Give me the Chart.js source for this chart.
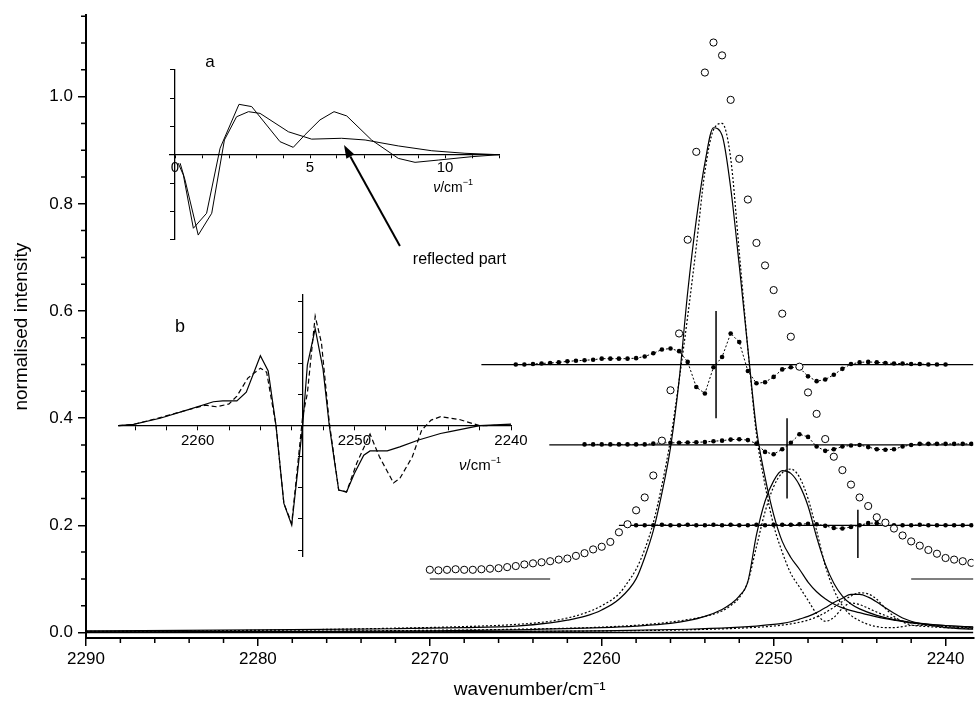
<!DOCTYPE html>
<html><head><meta charset="utf-8">
<script src="https://cdn.jsdelivr.net/npm/chart.js@4.4.1/dist/chart.umd.min.js"></script>
<style>
html,body{margin:0;padding:0;background:#fff;}
#wrap{position:relative;width:978px;height:701px;overflow:hidden;background:#fff;}
#wrap canvas{position:absolute;}
</style></head><body>
<div id="wrap">
<canvas id="main" width="978" height="701" style="left:0;top:0;"></canvas>
<canvas id="insetA" width="460" height="250" style="left:100px;top:40px;"></canvas>
<canvas id="insetB" width="480" height="320" style="left:80px;top:270px;"></canvas>
</div>
<script>
const FONT = "'Liberation Sans', Arial, Helvetica, sans-serif";

// ---------- main chart: tick values ----------
const xMajorTicks = [2290, 2280, 2270, 2260, 2250, 2240];
const xMinorTicks = [2288,2286,2284,2282,2278,2276,2274,2272,2268,2266,2264,2262,2258,2256,2254,2252,2248,2246,2244,2242];
const yMajorTicks = [0, 0.2, 0.4, 0.6, 0.8, 1.0];
const yMinorTicks = [0.05,0.1,0.15,0.25,0.3,0.35,0.45,0.5,0.55,0.65,0.7,0.75,0.85,0.9,0.95,1.05,1.1,1.15];

// ---------- main chart: experimental spectrum (open circles) ----------
const expX = [2270,2269.5,2269,2268.5,2268,2267.5,2267,2266.5,2266,2265.5,2265,2264.5,2264,2263.5,2263,2262.5,2262,2261.5,2261,2260.5,2260,2259.5,2259,2258.5,2258,2257.5,2257,2256.5,2256,2255.5,2255,2254.5,2254,2253.5,2253,2252.5,2252,2251.5,2251,2250.5,2250,2249.5,2249,2248.5,2248,2247.5,2247,2246.5,2246,2245.5,2245,2244.5,2244,2243.5,2243,2242.5,2242,2241.5,2241,2240.5,2240,2239.5,2239,2238.5];
const expY = [0.117,0.116,0.117,0.118,0.117,0.117,0.118,0.119,0.120,0.122,0.124,0.127,0.129,0.131,0.133,0.136,0.138,0.143,0.148,0.155,0.160,0.169,0.187,0.202,0.228,0.252,0.293,0.358,0.452,0.558,0.733,0.897,1.045,1.101,1.077,0.994,0.884,0.808,0.727,0.685,0.639,0.595,0.552,0.496,0.448,0.408,0.361,0.328,0.303,0.276,0.252,0.236,0.215,0.205,0.194,0.181,0.170,0.162,0.154,0.147,0.139,0.136,0.133,0.130];
const expBaseLeftX = [2270, 2263];
const expBaseRightX = [2242, 2238.38];
const expBaseY = [0.1, 0.1];

// ---------- residual rows (filled dots) ----------
const r1X = [2265,2264.5,2264,2263.5,2263,2262.5,2262,2261.5,2261,2260.5,2260,2259.5,2259,2258.5,2258,2257.5,2257,2256.5,2256,2255.5,2255,2254.5,2254,2253.5,2253,2252.5,2252,2251.5,2251,2250.5,2250,2249.5,2249,2248.5,2248,2247.5,2247,2246.5,2246,2245.5,2245,2244.5,2244,2243.5,2243,2242.5,2242,2241.5,2241,2240.5,2240];
const r1Y = [0.500,0.500,0.501,0.502,0.503,0.504,0.506,0.507,0.508,0.509,0.511,0.511,0.511,0.511,0.512,0.515,0.521,0.528,0.530,0.525,0.505,0.458,0.446,0.495,0.514,0.558,0.542,0.488,0.465,0.467,0.477,0.491,0.495,0.494,0.478,0.469,0.472,0.481,0.492,0.501,0.504,0.505,0.504,0.503,0.502,0.502,0.501,0.501,0.500,0.500,0.500];
const r2X = [2261,2260.5,2260,2259.5,2259,2258.5,2258,2257.5,2257,2256.5,2256,2255.5,2255,2254.5,2254,2253.5,2253,2252.5,2252,2251.5,2251,2250.5,2250,2249.5,2249,2248.5,2248,2247.5,2247,2246.5,2246,2245.5,2245,2244.5,2244,2243.5,2243,2242.5,2242,2241.5,2241,2240.5,2240,2239.5,2239,2238.5];
const r2Y = [0.351,0.351,0.351,0.351,0.351,0.351,0.351,0.351,0.3525,0.354,0.354,0.354,0.3545,0.355,0.3555,0.357,0.358,0.360,0.3605,0.359,0.3525,0.337,0.3326,0.342,0.354,0.370,0.365,0.347,0.339,0.342,0.347,0.349,0.350,0.346,0.342,0.341,0.342,0.347,0.350,0.352,0.352,0.352,0.352,0.352,0.352,0.352];
const r3X = [2258,2257.5,2257,2256.5,2256,2255.5,2255,2254.5,2254,2253.5,2253,2252.5,2252,2251.5,2251,2250.5,2250,2249.5,2249,2248.5,2248,2247.5,2247,2246.5,2246,2245.5,2245,2244.5,2244,2243.5,2243,2242.5,2242,2241.5,2241,2240.5,2240,2239.5,2239,2238.5];
const r3Y = [0.200,0.200,0.200,0.201,0.200,0.200,0.201,0.200,0.200,0.201,0.200,0.201,0.200,0.200,0.201,0.200,0.201,0.201,0.201,0.202,0.203,0.202,0.199,0.195,0.194,0.197,0.200,0.204,0.204,0.201,0.200,0.200,0.200,0.201,0.200,0.200,0.200,0.200,0.200,0.200];
const rowLine1X = [2267, 2238.38];   const rowLine1Y = [0.5, 0.5];
const rowLine2X = [2263.05, 2238.38]; const rowLine2Y = [0.35, 0.35];
const rowLine3X = [2259, 2238.38];   const rowLine3Y = [0.2, 0.2];
const bar1X = [2253.35, 2253.35]; const bar1Y = [0.40, 0.60];
const bar2X = [2249.22, 2249.22]; const bar2Y = [0.25, 0.40];
const bar3X = [2245.1, 2245.1];   const bar3Y = [0.139, 0.229];

// ---------- fitted components ----------
const s1X = [2290,2280,2272,2268,2265,2263,2262,2261,2260,2259,2258,2257.5,2257,2256.5,2256,2255.5,2255,2254.5,2254,2253.5,2253,2252.5,2252,2251.5,2251,2250.5,2250,2249.5,2249,2248.5,2248,2247.5,2247,2246.5,2246,2245,2244,2243,2242,2240,2238.38];
const s1Y = [0.003,0.005,0.007,0.009,0.012,0.018,0.023,0.030,0.042,0.062,0.100,0.140,0.190,0.260,0.345,0.470,0.635,0.770,0.876,0.942,0.928,0.830,0.685,0.530,0.380,0.290,0.220,0.170,0.140,0.118,0.094,0.076,0.063,0.053,0.046,0.037,0.029,0.023,0.018,0.013,0.010];
const d1X = [2290,2280,2272,2268,2265,2263,2262,2261,2260,2259,2258.5,2258,2257.5,2257,2256.5,2256,2255.5,2255,2254.5,2254,2253.5,2253,2252.5,2252,2251.5,2251,2250.5,2250,2249.5,2249,2248.5,2248,2247.5,2247,2246.5,2246,2245.5,2245,2244,2243,2242,2240,2238.38];
const d1Y = [0.002,0.004,0.008,0.011,0.015,0.021,0.027,0.036,0.050,0.072,0.093,0.118,0.155,0.205,0.275,0.360,0.470,0.590,0.720,0.860,0.938,0.950,0.885,0.710,0.530,0.370,0.275,0.200,0.150,0.110,0.085,0.060,0.035,0.021,0.028,0.045,0.055,0.052,0.038,0.026,0.018,0.011,0.008];
const s2X = [2290,2280,2270,2265,2260,2258,2256,2255,2254,2253,2252.5,2252,2251.5,2251,2250.5,2250,2249.5,2249,2248.5,2248,2247.5,2247,2246.5,2246,2245.5,2245,2244,2243,2242,2240,2238.38];
const s2Y = [0.001,0.002,0.003,0.005,0.009,0.012,0.017,0.022,0.030,0.043,0.053,0.068,0.095,0.182,0.245,0.283,0.302,0.297,0.275,0.236,0.178,0.128,0.092,0.068,0.053,0.044,0.032,0.024,0.019,0.013,0.010];
const d2X = [2290,2280,2270,2265,2260,2257,2255,2254,2253,2252.5,2252,2251.5,2251,2250.5,2250,2249.5,2249,2248.5,2248,2247.5,2247,2246.5,2246,2245.5,2245,2244.5,2244,2243.5,2243,2242.5,2242,2241,2240,2238.38];
const d2Y = [0.001,0.002,0.004,0.006,0.010,0.016,0.024,0.030,0.040,0.050,0.065,0.095,0.160,0.225,0.272,0.298,0.305,0.290,0.250,0.190,0.125,0.080,0.050,0.032,0.022,0.015,0.011,0.009,0.009,0.011,0.013,0.013,0.011,0.009];
const s3X = [2290,2270,2260,2255,2252.5,2251,2250,2249.5,2249,2248.5,2248,2247.5,2247,2246.5,2246,2245.5,2245,2244.5,2244,2243.5,2243,2242.5,2242,2241.5,2241,2240,2238.38];
const s3Y = [0.0005,0.001,0.003,0.006,0.009,0.012,0.015,0.017,0.020,0.025,0.030,0.037,0.046,0.056,0.064,0.071,0.071,0.066,0.057,0.046,0.036,0.027,0.021,0.017,0.014,0.009,0.006];
const d3X = [2290,2270,2260,2255,2252,2250,2249,2248,2247.5,2247,2246.5,2246,2245.5,2245,2244.5,2244,2243.5,2243,2242.5,2242,2241,2240,2238.38];
const d3Y = [0.0005,0.001,0.003,0.005,0.008,0.012,0.016,0.023,0.029,0.037,0.047,0.058,0.068,0.074,0.072,0.062,0.045,0.030,0.020,0.014,0.011,0.009,0.007];
const zeroX = [2290, 2238.38]; const zeroY = [0, 0];

// ---------- inset a ----------
const aXTicks = [0,1,2,3,4,5,6,7,8,9,10,11,12];
const aXLabelled = [0, 5, 10];
const aYTicks = [-3,-2,-1,0,1,2,3];
const aPX = [0.12,0.31,0.68,1.17,1.67,2.37,2.84,3.89,4.38,4.81,5.37,5.89,6.36,7.28,8.27,8.89,9.75,10.99,12.0];
const aPY = [-0.30,-0.72,-2.60,-2.07,0.23,1.78,1.70,0.46,0.26,0.70,1.23,1.52,1.37,0.52,-0.13,-0.27,-0.19,-0.07,0];
const aQX = [0.19,0.37,0.86,1.36,1.83,2.28,2.72,3.15,4.2,5.06,6.17,7.04,8.27,9.51,10.74,12.0];
const aQY = [-0.30,-0.89,-2.84,-2.07,0.52,1.34,1.52,1.46,0.81,0.55,0.58,0.52,0.31,0.14,0.05,0];

// ---------- inset b ----------
const bXTicks = [2264,2262,2260,2258,2256,2254,2252,2250,2248,2246,2244,2242,2240];
const bXLabelled = [2260, 2250, 2240];
const bYTicks = [-4,-3,-2,-1,0,1,2,3,4];
const bSX = [2265.07,2264.1,2262.4,2260.7,2259.0,2258.4,2257.5,2256.9,2256.0,2255.5,2255.0,2254.5,2254.0,2253.3,2253.0,2252.5,2252.0,2251.6,2251.0,2250.5,2250.0,2249.4,2249.0,2247.9,2247.1,2245.9,2244.5,2243.9,2242.0,2240.0];
const bSY = [0,0.04,0.24,0.50,0.77,0.80,0.80,1.08,2.25,1.76,0,-2.5,-3.2,0,1.95,3.12,1.82,0,-2.07,-2.13,-1.54,-0.95,-0.81,-0.81,-0.68,-0.46,-0.25,-0.19,0,0.05];
const bDX = [2265.07,2264.1,2262.4,2260.7,2259.5,2258.8,2258.0,2257.5,2256.8,2256.0,2255.6,2255.0,2254.5,2254.0,2253.3,2253.0,2252.5,2252.1,2251.6,2251.0,2250.5,2249.85,2249.0,2248.4,2247.5,2247.1,2246.3,2245.7,2245.1,2244.5,2243.3,2242.0,2240.0];
const bDY = [0,0.04,0.26,0.50,0.66,0.61,0.70,0.95,1.53,1.85,1.72,0,-2.5,-3.14,0.3,1.04,3.52,2.66,0.1,-2.07,-2.13,-1.21,-0.27,-1.0,-1.84,-1.70,-1.0,-0.14,0.18,0.29,0.20,0,0.02];

// ---------- helpers ----------
const pts = (xs, ys) => xs.map((x, i) => ({x, y: ys[i]}));
function lineDS(xs, ys, extra) {
  return Object.assign({data: pts(xs, ys), showLine: true, borderColor: '#000', borderWidth: 1.2,
    pointRadius: 0, pointHoverRadius: 0, fill: false, tension: 0}, extra || {});
}
function drawUnit(ctx, cx, cy, size) {
  const parts = [
    {t: 'ν', f: `italic ${size}px ${FONT}`, dy: 0},
    {t: '/cm', f: `${size}px ${FONT}`, dy: 0},
    {t: '−1', f: `${Math.round(size * 0.62)}px ${FONT}`, dy: -size * 0.38}
  ];
  let w = 0;
  parts.forEach(p => { ctx.font = p.f; p.w = ctx.measureText(p.t).width; w += p.w; });
  let x = cx - w / 2;
  ctx.textAlign = 'left'; ctx.textBaseline = 'middle';
  parts.forEach(p => { ctx.font = p.f; ctx.fillText(p.t, x, cy + p.dy); x += p.w; });
}
const noUI = {legend: {display: false}, tooltip: {enabled: false}};

// ---------- main chart ----------
const minorTickPlugin = {
  id: 'minorTicks',
  afterDraw(chart) {
    const {ctx, scales: {x, y}, chartArea} = chart;
    ctx.save();
    ctx.strokeStyle = '#000'; ctx.lineWidth = 1.5;
    ctx.beginPath();
    xMinorTicks.forEach(v => { const p = x.getPixelForValue(v); ctx.moveTo(p, chartArea.bottom); ctx.lineTo(p, chartArea.bottom + 5); });
    yMinorTicks.forEach(v => { const p = y.getPixelForValue(v); ctx.moveTo(chartArea.left, p); ctx.lineTo(chartArea.left - 5, p); });
    ctx.stroke();
    ctx.restore();
  }
};

const mainDatasets = [
  {data: pts(expX, expY), showLine: false, pointRadius: 3.6, pointHoverRadius: 3.6, pointBorderWidth: 1,
   pointBorderColor: '#000', pointBackgroundColor: '#fff'},
  lineDS(r1X, r1Y, {borderDash: [2, 2], borderWidth: 1, pointRadius: 2.3, pointBackgroundColor: '#000', pointBorderWidth: 0}),
  lineDS(r2X, r2Y, {borderDash: [2, 2], borderWidth: 1, pointRadius: 2.3, pointBackgroundColor: '#000', pointBorderWidth: 0}),
  lineDS(r3X, r3Y, {borderDash: [2, 2], borderWidth: 1, pointRadius: 2.3, pointBackgroundColor: '#000', pointBorderWidth: 0}),
  lineDS(rowLine1X, rowLine1Y, {borderWidth: 1.3}),
  lineDS(rowLine2X, rowLine2Y, {borderWidth: 1.3}),
  lineDS(rowLine3X, rowLine3Y, {borderWidth: 1.3}),
  lineDS(bar1X, bar1Y, {borderWidth: 1.5}),
  lineDS(bar2X, bar2Y, {borderWidth: 1.5}),
  lineDS(bar3X, bar3Y, {borderWidth: 1.5}),
  lineDS(expBaseLeftX, expBaseY, {borderColor: '#555', borderWidth: 1.5}),
  lineDS(expBaseRightX, expBaseY, {borderColor: '#555', borderWidth: 1.5}),
  lineDS(s1X, s1Y, {cubicInterpolationMode: 'monotone'}),
  lineDS(d1X, d1Y, {cubicInterpolationMode: 'monotone', borderDash: [2, 2]}),
  lineDS(s2X, s2Y, {cubicInterpolationMode: 'monotone'}),
  lineDS(d2X, d2Y, {cubicInterpolationMode: 'monotone', borderDash: [2, 2]}),
  lineDS(s3X, s3Y, {cubicInterpolationMode: 'monotone'}),
  lineDS(d3X, d3Y, {cubicInterpolationMode: 'monotone', borderDash: [2, 2]}),
  lineDS(zeroX, zeroY, {borderWidth: 1.5})
];

const axisGrid = {display: true, drawOnChartArea: false, drawTicks: true, tickLength: 8, color: '#000', lineWidth: 1.5};
const axisBorder = {display: true, color: '#000', width: 2};

new Chart(document.getElementById('main'), {
  type: 'scatter',
  data: {datasets: mainDatasets},
  options: {
    responsive: false, animation: false, devicePixelRatio: 1, events: [],
    layout: {padding: {top: 15, right: 0, left: 0, bottom: 0}},
    plugins: noUI,
    scales: {
      x: {
        type: 'linear', reverse: true, min: 2238.38, max: 2290, position: 'bottom', bounds: 'data',
        afterBuildTicks: s => { s.ticks = xMajorTicks.map(v => ({value: v})); },
        afterFit: s => { s.height = 63; },
        ticks: {autoSkip: false, maxRotation: 0, padding: 3, color: '#000', font: {family: FONT, size: 17}, callback: v => String(v)},
        grid: axisGrid, border: axisBorder,
        title: {display: true, text: 'wavenumber/cm⁻¹', color: '#000', font: {family: FONT, size: 19}, padding: {top: 0, bottom: 0}}
      },
      y: {
        type: 'linear', min: -0.0103, max: 1.152, position: 'left', bounds: 'data',
        afterBuildTicks: s => { s.ticks = yMajorTicks.map(v => ({value: v})); },
        afterFit: s => { s.width = 86; },
        ticks: {padding: 5, color: '#000', font: {family: FONT, size: 17}, callback: v => Number(v).toFixed(1)},
        grid: axisGrid, border: axisBorder,
        title: {display: true, text: 'normalised intensity', color: '#000', font: {family: FONT, size: 19}, padding: {top: 10, bottom: 0}}
      }
    }
  },
  plugins: [minorTickPlugin]
});

// ---------- inset a ----------
const insetAAnnot = {
  id: 'insetAAnnot',
  afterDraw(chart) {
    const {ctx, scales: {x, y}} = chart;
    ctx.save();
    ctx.fillStyle = '#000'; ctx.strokeStyle = '#000';
    ctx.font = `17px ${FONT}`; ctx.textAlign = 'center'; ctx.textBaseline = 'middle';
    ctx.fillText('a', x.getPixelForValue(1.3), y.getPixelForValue(3.28));
    drawUnit(ctx, x.getPixelForValue(10.3), y.getPixelForValue(-1.18), 14);
    // arrow to the reflected part
    const x0 = x.getPixelForValue(8.33), y0 = y.getPixelForValue(-3.23);
    const x1 = x.getPixelForValue(6.26), y1 = y.getPixelForValue(0.34);
    const ang = Math.atan2(y1 - y0, x1 - x0), L = 13, W = 4.5;
    const bx = x1 - L * Math.cos(ang), by = y1 - L * Math.sin(ang);
    ctx.lineWidth = 2;
    ctx.beginPath(); ctx.moveTo(x0, y0); ctx.lineTo(bx, by); ctx.stroke();
    ctx.beginPath();
    ctx.moveTo(x1, y1);
    ctx.lineTo(bx + W * Math.sin(ang), by - W * Math.cos(ang));
    ctx.lineTo(bx - W * Math.sin(ang), by + W * Math.cos(ang));
    ctx.closePath(); ctx.fill();
    ctx.font = `16px ${FONT}`; ctx.textAlign = 'left'; ctx.textBaseline = 'middle';
    ctx.fillText('reflected part', x.getPixelForValue(8.81), y.getPixelForValue(-3.72));
    ctx.restore();
  }
};

new Chart(document.getElementById('insetA'), {
  type: 'scatter',
  data: {datasets: [
    lineDS(aPX, aPY, {borderWidth: 1}),
    lineDS(aQX, aQY, {borderWidth: 1})
  ]},
  options: {
    responsive: false, animation: false, devicePixelRatio: 1, events: [],
    layout: {padding: {left: 69.6, right: 61, top: 29.8, bottom: 50.4}},
    plugins: noUI,
    scales: {
      x: {
        type: 'linear', min: -0.2, max: 12, position: {y: 0}, bounds: 'data',
        afterBuildTicks: s => { s.ticks = aXTicks.map(v => ({value: v})); },
        ticks: {autoSkip: false, maxRotation: 0, padding: 1, color: '#000', font: {family: FONT, size: 15},
          callback: v => aXLabelled.includes(v) ? String(v) : ''},
        grid: {display: true, drawOnChartArea: false, drawTicks: true, tickLength: 3, color: '#000', lineWidth: 1},
        border: {display: true, color: '#000', width: 1.3}
      },
      y: {
        type: 'linear', min: -3, max: 3, position: {x: 0}, bounds: 'data',
        afterBuildTicks: s => { s.ticks = aYTicks.map(v => ({value: v})); },
        ticks: {display: false},
        grid: {display: true, drawOnChartArea: false, drawTicks: true, tickLength: 4, color: '#000', lineWidth: 1},
        border: {display: true, color: '#000', width: 1.3}
      }
    }
  },
  plugins: [insetAAnnot]
});

// ---------- inset b ----------
const insetBAnnot = {
  id: 'insetBAnnot',
  afterDraw(chart) {
    const {ctx, scales: {x, y}} = chart;
    ctx.save();
    ctx.fillStyle = '#000';
    ctx.font = `18px ${FONT}`; ctx.textAlign = 'center'; ctx.textBaseline = 'middle';
    ctx.fillText('b', x.getPixelForValue(2261.13), y.getPixelForValue(3.18));
    drawUnit(ctx, x.getPixelForValue(2241.98), y.getPixelForValue(-1.3), 15);
    ctx.restore();
  }
};

new Chart(document.getElementById('insetB'), {
  type: 'scatter',
  data: {datasets: [
    lineDS(bSX, bSY, {borderWidth: 1.2}),
    lineDS(bDX, bDY, {borderWidth: 1.2, borderDash: [5, 3]})
  ]},
  options: {
    responsive: false, animation: false, devicePixelRatio: 1, events: [],
    layout: {padding: {left: 38.3, right: 49, top: 25.1, bottom: 33.7}},
    plugins: noUI,
    scales: {
      x: {
        type: 'linear', reverse: true, min: 2240, max: 2265.07, position: {y: 0}, bounds: 'data',
        afterBuildTicks: s => { s.ticks = bXTicks.map(v => ({value: v})); },
        ticks: {autoSkip: false, maxRotation: 0, padding: 2, color: '#000', font: {family: FONT, size: 15},
          callback: v => bXLabelled.includes(v) ? String(v) : ''},
        grid: {display: true, drawOnChartArea: false, drawTicks: true, tickLength: 4, color: '#000', lineWidth: 1},
        border: {display: true, color: '#000', width: 1.3}
      },
      y: {
        type: 'linear', min: -4.2, max: 4.2, position: {x: 2253.3}, bounds: 'data',
        afterBuildTicks: s => { s.ticks = bYTicks.map(v => ({value: v})); },
        ticks: {display: false},
        grid: {display: true, drawOnChartArea: false, drawTicks: true, tickLength: 4, color: '#000', lineWidth: 1},
        border: {display: true, color: '#000', width: 1.3}
      }
    }
  },
  plugins: [insetBAnnot]
});
</script>
</body></html>
